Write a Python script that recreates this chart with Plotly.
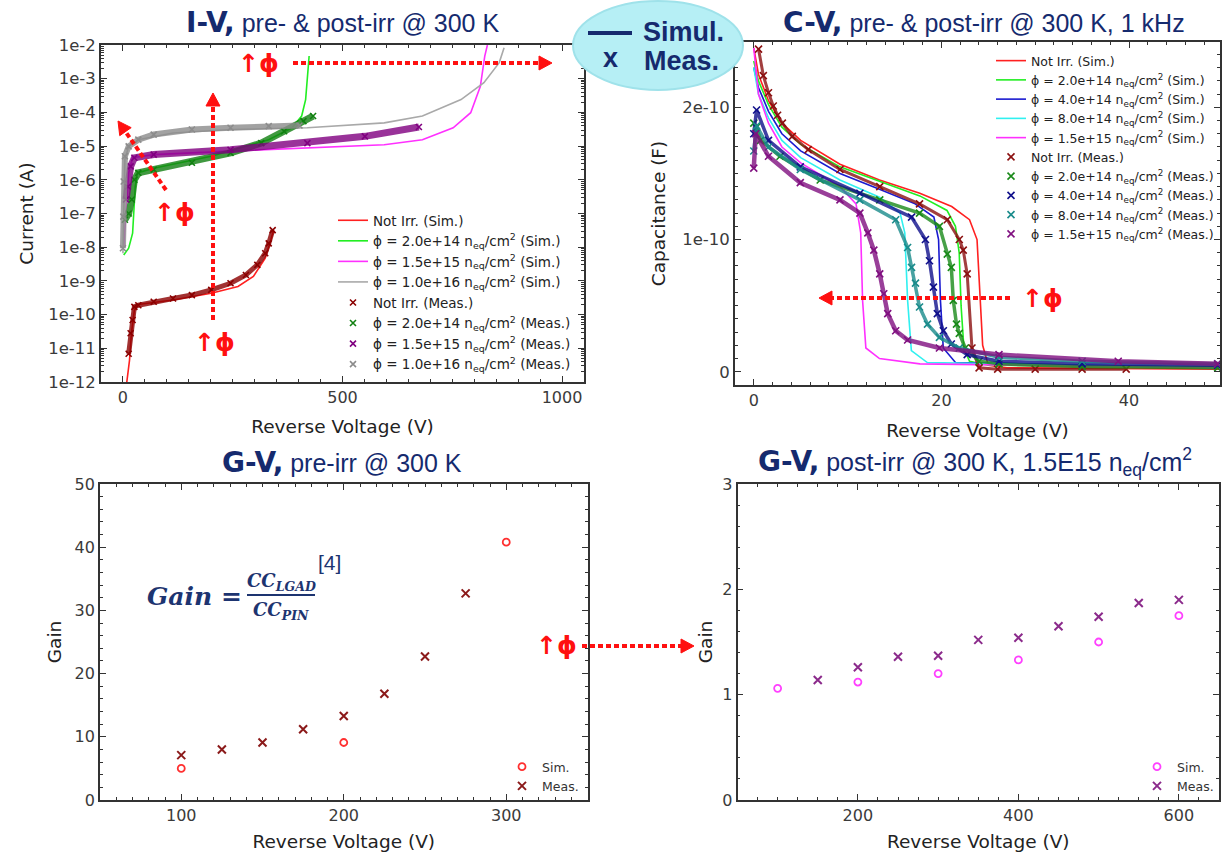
import plotly.graph_objects as go

W, H = 1225, 852


def px(x):
    return x / W


def py(y):
    return 1 - y / H


# ---------------- I-V data (Reverse voltage V, current A) ----------------
iv_notirr_sim_v = [8.75, 14.9, 19.3, 26, 35, 114, 201, 262, 297, 324, 337, 343]
iv_notirr_sim_i = [1e-12, 4.4e-12, 2.8e-11, 1.35e-10, 2.0e-10, 2.7e-10, 4.3e-10, 6.8e-10, 1.35e-9, 4.7e-9, 1.66e-8, 3.2e-8]

iv_2e14_sim_v = [1.75, 13, 22, 28, 33, 70, 201, 332, 385, 407, 416, 420, 424]
iv_2e14_sim_i = [5.9e-9, 9.3e-9, 2.6e-8, 6.3e-7, 1.6e-6, 2.2e-6, 5.0e-6, 1.55e-5, 3.5e-5, 7.8e-5, 2.4e-4, 1.2e-3, 4.7e-3]

iv_15e15_sim_v = [1.75, 7, 13, 22, 70, 245, 420, 595, 682, 752, 792, 814, 824, 830]
iv_15e15_sim_i = [1.05e-8, 1.6e-7, 1.6e-6, 4.5e-6, 5.6e-6, 7.1e-6, 8.7e-6, 1.1e-5, 1.55e-5, 3.5e-5, 9.8e-5, 6.0e-4, 4.7e-3, 1.0e-2]

iv_1e16_sim_v = [0, 1.75, 4.4, 13, 35, 114, 245, 420, 595, 682, 770, 822, 857, 868]
iv_1e16_sim_i = [6.6e-9, 2.6e-7, 4.0e-6, 9.8e-6, 1.55e-5, 2.45e-5, 3.1e-5, 3.5e-5, 4.9e-5, 7.8e-5, 2.4e-4, 7.6e-4, 3.0e-3, 8.3e-3]

iv_notirr_meas_v = [13, 17.5, 22, 26, 35, 70, 114, 157, 201, 245, 280, 306, 324, 332, 341]
iv_notirr_meas_i = [6.9e-12, 2.8e-11, 6.9e-11, 1.7e-10, 1.9e-10, 2.4e-10, 3.0e-10, 3.8e-10, 5.4e-10, 8.5e-10, 1.5e-9, 3.0e-9, 6.6e-9, 1.3e-8, 3.2e-8]

iv_2e14_meas_v = [4.4, 13, 20, 26, 35, 70, 157, 245, 315, 367, 411, 433]
iv_2e14_meas_i = [6.5e-8, 1.0e-7, 2.6e-7, 1.0e-6, 1.6e-6, 2.0e-6, 3.2e-6, 6.3e-6, 1.23e-5, 2.75e-5, 5.5e-5, 7.8e-5]

iv_15e15_meas_v = [7, 11.4, 17.5, 26, 70, 245, 420, 551, 674]
iv_15e15_meas_i = [2.6e-7, 6.3e-7, 2.5e-6, 4.5e-6, 5.6e-6, 7.8e-6, 1.23e-5, 1.95e-5, 3.7e-5]

iv_1e16_meas_v = [0, 0.9, 1.75, 4.4, 13, 35, 70, 157, 245, 332, 402]
iv_1e16_meas_i = [9.3e-9, 8.1e-8, 8.9e-7, 5.0e-6, 9.8e-6, 1.55e-5, 2.2e-5, 3.1e-5, 3.5e-5, 3.9e-5, 4.1e-5]

iv_ticks = [1e-12, 1e-11, 1e-10, 1e-9, 1e-8, 1e-7, 1e-6, 1e-5, 1e-4, 1e-3, 1e-2]
iv_ticktext = ["1e-12", "1e-11", "1e-10", "1e-9", "1e-8", "1e-7", "1e-6", "1e-5", "1e-4", "1e-3", "1e-2"]

# ---------------- C-V data (V, capacitance in units of 1e-10 F) ----------------
cv_notirr_sim_v = [0, 0.5, 1.57, 3, 5, 9.19, 13.4, 17.7, 21.1, 23, 23.8, 24.1, 24.4, 25, 27, 49.7]
cv_notirr_sim_c = [2.45, 2.25, 2.05, 1.88, 1.75, 1.57, 1.45, 1.35, 1.25, 1.15, 1.0, 0.6, 0.2, 0.05, 0.03, 0.02]

cv_2e14_sim_v = [0, 0.5, 1.57, 3, 5, 9.19, 13.4, 17.7, 20.6, 21.5, 21.9, 22.1, 22.4, 23, 25, 49.7]
cv_2e14_sim_c = [2.35, 2.2, 2.02, 1.85, 1.72, 1.55, 1.44, 1.33, 1.22, 1.1, 0.9, 0.5, 0.18, 0.08, 0.05, 0.03]

cv_4e14_sim_v = [0, 0.5, 1.57, 3, 5, 9.19, 13.4, 17.2, 19.2, 19.7, 19.9, 20.2, 21.5, 49.7]
cv_4e14_sim_c = [2.3, 2.15, 1.97, 1.80, 1.67, 1.50, 1.38, 1.27, 1.17, 1.0, 0.54, 0.18, 0.07, 0.03]

cv_8e14_sim_v = [0, 0.5, 1.57, 3, 5, 9.19, 13.4, 15.6, 16.1, 16.4, 16.8, 18.5, 49.7]
cv_8e14_sim_c = [2.3, 2.1, 1.92, 1.75, 1.62, 1.45, 1.32, 1.2, 1.05, 0.54, 0.16, 0.07, 0.03]

cv_15e15_sim_v = [0, 0.5, 1.57, 3, 5, 9.19, 10.9, 11.4, 11.6, 11.95, 13.4, 17.7, 49.7]
cv_15e15_sim_c = [2.45, 2.1, 1.88, 1.70, 1.58, 1.40, 1.27, 1.05, 0.54, 0.18, 0.10, 0.06, 0.03]

cv_notirr_meas_v = [0.51, 1.02, 1.57, 2.08, 2.54, 3.05, 4.11, 5.8, 9.19, 13.43, 17.67, 20.63, 21.91, 22.33, 22.75, 23.26, 24.02, 26, 30, 35, 39.7]
cv_notirr_meas_c = [2.44, 2.24, 2.11, 2.01, 1.94, 1.88, 1.78, 1.68, 1.53, 1.40, 1.27, 1.15, 1.0, 0.92, 0.74, 0.18, 0.03, 0.02, 0.02, 0.02, 0.02]

cv_2e14_meas_v = [0, 0.3, 0.72, 2.8, 7.08, 13.43, 17.67, 19.79, 20.63, 21.06, 21.27, 21.61, 21.91, 22.54, 24.02, 26.14, 35, 49.45]
cv_2e14_meas_c = [1.88, 1.85, 1.75, 1.63, 1.45, 1.30, 1.20, 1.10, 0.89, 0.79, 0.54, 0.36, 0.29, 0.18, 0.08, 0.06, 0.04, 0.03]

cv_4e14_meas_v = [0, 0.3, 1.57, 4.96, 11.31, 16.82, 18.30, 18.73, 19.15, 19.57, 20.21, 21.06, 22.75, 26.14, 35, 49.45]
cv_4e14_meas_c = [1.80, 1.98, 1.75, 1.55, 1.35, 1.17, 1.0, 0.84, 0.64, 0.44, 0.31, 0.21, 0.13, 0.08, 0.06, 0.05]

cv_8e14_meas_v = [0, 0.3, 1.57, 4.96, 11.31, 15.13, 16.40, 16.82, 17.24, 17.67, 18.52, 19.79, 21.91, 26.14, 35, 49.45]
cv_8e14_meas_c = [1.67, 1.86, 1.70, 1.53, 1.30, 1.15, 0.94, 0.79, 0.67, 0.49, 0.36, 0.26, 0.18, 0.11, 0.08, 0.06]

cv_15e15_meas_v = [0, 0.21, 1.57, 4.96, 9.19, 11.31, 12.16, 12.80, 13.43, 13.86, 14.28, 15.13, 16.40, 19.79, 26.14, 38.85, 49.45]
cv_15e15_meas_c = [1.54, 1.80, 1.63, 1.43, 1.30, 1.20, 1.05, 0.92, 0.74, 0.59, 0.44, 0.31, 0.24, 0.18, 0.13, 0.08, 0.06]

cv_unit = 1e-10
cv_ticks = [0, 1e-10, 2e-10]
cv_ticktext = ["0", "1e-10", "2e-10"]

# ---------------- G-V data ----------------
gv_pre_meas_v = [100, 125, 150, 175, 200, 225, 250, 275]
gv_pre_meas_g = [7.1, 8.0, 9.1, 11.2, 13.3, 16.8, 22.7, 32.7]
gv_pre_sim_v = [100, 200, 300]
gv_pre_sim_g = [5.0, 9.1, 40.8]

gv_post_meas_v = [150, 200, 250, 300, 350, 400, 450, 500, 550, 600]
gv_post_meas_g = [1.14, 1.26, 1.36, 1.37, 1.52, 1.54, 1.65, 1.74, 1.87, 1.90]
gv_post_sim_v = [100, 200, 300, 400, 500, 600]
gv_post_sim_g = [1.06, 1.12, 1.20, 1.33, 1.50, 1.75]

# ---------------- styling ----------------
FONT = "DejaVu Sans"
NAVY = "#152a6e"
RED = "#ff1010"
lab_neq = "n<sub>eq</sub>/cm<sup>2</sup>"

fig = go.Figure()


def sim_line(x, y, color, name, xa, ya, leg, width=1.6):
    fig.add_trace(go.Scatter(x=x, y=y, mode="lines", name=name, line=dict(color=color, width=width),
                             xaxis=xa, yaxis=ya, legend=leg, hoverinfo="skip"))


def meas(x, y, color, name, xa, ya, leg, band=0, size=6):
    if band:
        fig.add_trace(go.Scatter(x=x, y=y, mode="lines", showlegend=False, line=dict(color=color, width=band),
                                 opacity=0.8, xaxis=xa, yaxis=ya, hoverinfo="skip"))
    fig.add_trace(go.Scatter(x=x, y=y, mode="markers", name=name,
                             marker=dict(symbol="x-thin", size=size, color=color, line=dict(color=color, width=1.6)),
                             xaxis=xa, yaxis=ya, legend=leg, hoverinfo="skip"))


# I-V
sim_line(iv_notirr_sim_v, iv_notirr_sim_i, "#ff2020", "Not Irr. (Sim.)", "x", "y", "legend")
sim_line(iv_2e14_sim_v, iv_2e14_sim_i, "#22ee22", "ϕ = 2.0e+14 " + lab_neq + " (Sim.)", "x", "y", "legend")
sim_line(iv_15e15_sim_v, iv_15e15_sim_i, "#ff30ff", "ϕ = 1.5e+15 " + lab_neq + " (Sim.)", "x", "y", "legend")
sim_line(iv_1e16_sim_v, iv_1e16_sim_i, "#a9a9a9", "ϕ = 1.0e+16 " + lab_neq + " (Sim.)", "x", "y", "legend")
meas(iv_notirr_meas_v, iv_notirr_meas_i, "#8b0000", "Not Irr. (Meas.)", "x", "y", "legend", band=5)
meas(iv_2e14_meas_v, iv_2e14_meas_i, "#118011", "ϕ = 2.0e+14 " + lab_neq + " (Meas.)", "x", "y", "legend", band=7)
meas(iv_15e15_meas_v, iv_15e15_meas_i, "#800080", "ϕ = 1.5e+15 " + lab_neq + " (Meas.)", "x", "y", "legend", band=7)
meas(iv_1e16_meas_v, iv_1e16_meas_i, "#8c8c8c", "ϕ = 1.0e+16 " + lab_neq + " (Meas.)", "x", "y", "legend", band=6)

# C-V
cv = lambda arr: [v * cv_unit for v in arr]
sim_line(cv_notirr_sim_v, cv(cv_notirr_sim_c), "#ff2020", "Not Irr. (Sim.)", "x2", "y2", "legend2")
sim_line(cv_2e14_sim_v, cv(cv_2e14_sim_c), "#22ee22", "ϕ = 2.0e+14 " + lab_neq + " (Sim.)", "x2", "y2", "legend2")
sim_line(cv_4e14_sim_v, cv(cv_4e14_sim_c), "#1a1ad0", "ϕ = 4.0e+14 " + lab_neq + " (Sim.)", "x2", "y2", "legend2")
sim_line(cv_8e14_sim_v, cv(cv_8e14_sim_c), "#30f0f0", "ϕ = 8.0e+14 " + lab_neq + " (Sim.)", "x2", "y2", "legend2")
sim_line(cv_15e15_sim_v, cv(cv_15e15_sim_c), "#ff30ff", "ϕ = 1.5e+15 " + lab_neq + " (Sim.)", "x2", "y2", "legend2")
meas(cv_notirr_meas_v, cv(cv_notirr_meas_c), "#8b1010", "Not Irr. (Meas.)", "x2", "y2", "legend2", band=3, size=7)
meas(cv_2e14_meas_v, cv(cv_2e14_meas_c), "#1a8a1a", "ϕ = 2.0e+14 " + lab_neq + " (Meas.)", "x2", "y2", "legend2", band=3.5, size=7)
meas(cv_4e14_meas_v, cv(cv_4e14_meas_c), "#10108b", "ϕ = 4.0e+14 " + lab_neq + " (Meas.)", "x2", "y2", "legend2", band=3.5, size=7)
meas(cv_8e14_meas_v, cv(cv_8e14_meas_c), "#1a8b8b", "ϕ = 8.0e+14 " + lab_neq + " (Meas.)", "x2", "y2", "legend2", band=3.5, size=7)
meas(cv_15e15_meas_v, cv(cv_15e15_meas_c), "#801080", "ϕ = 1.5e+15 " + lab_neq + " (Meas.)", "x2", "y2", "legend2", band=4.5, size=7)

# G-V pre
fig.add_trace(go.Scatter(x=gv_pre_sim_v, y=gv_pre_sim_g, mode="markers", name="Sim.",
                         marker=dict(symbol="circle-open", size=7, color="#ff3030", line=dict(width=1.8)),
                         xaxis="x3", yaxis="y3", legend="legend3"))
fig.add_trace(go.Scatter(x=gv_pre_meas_v, y=gv_pre_meas_g, mode="markers", name="Meas.",
                         marker=dict(symbol="x-thin", size=8, color="#8b1a1a", line=dict(color="#8b1a1a", width=2)),
                         xaxis="x3", yaxis="y3", legend="legend3"))
# G-V post
fig.add_trace(go.Scatter(x=gv_post_sim_v, y=gv_post_sim_g, mode="markers", name="Sim.",
                         marker=dict(symbol="circle-open", size=7, color="#ff40ff", line=dict(width=1.8)),
                         xaxis="x4", yaxis="y4", legend="legend4"))
fig.add_trace(go.Scatter(x=gv_post_meas_v, y=gv_post_meas_g, mode="markers", name="Meas.",
                         marker=dict(symbol="x-thin", size=8, color="#8b2a8b", line=dict(color="#8b2a8b", width=2)),
                         xaxis="x4", yaxis="y4", legend="legend4"))


def axis(domain, anchor, rng, title, standoff, size=16, **kw):
    d = dict(domain=domain, anchor=anchor, range=rng, showline=True, linecolor="#333", linewidth=1.8,
             mirror="ticks", ticks="inside", ticklen=6, tickwidth=1.2, tickcolor="#333",
             showgrid=False, zeroline=False, automargin=False,
             tickfont=dict(family=FONT, size=size, color="#3a3a3a"),
             title=dict(text=title, standoff=standoff, font=dict(family=FONT, size=18.5, color="#222")))
    d.update(kw)
    return d


minor_log = [m * 10.0 ** e for e in range(-12, -2) for m in range(2, 10)]

fig.update_layout(
    width=W, height=H, margin=dict(l=0, r=0, t=0, b=0, pad=0, autoexpand=False),
    paper_bgcolor="white", plot_bgcolor="white",
    xaxis=axis([px(101), px(584)], "y", [-50, 1050], "Reverse Voltage (V)", 14,
               tickvals=[0, 500, 1000], minor=dict(ticks="inside", ticklen=3, dtick=50, tickcolor="#333")),
    yaxis=axis([py(382), py(45)], "x", [-12, -2], "Current (A)", 10, size=16.5, type="log",
               tickvals=iv_ticks, ticktext=iv_ticktext,
               minor=dict(ticks="inside", ticklen=3, tickvals=minor_log, tickcolor="#333")),
    xaxis2=axis([px(735), px(1220)], "y2", [-2, 49.7], "Reverse Voltage (V)", 15,
                tickvals=[0, 20, 40], minor=dict(ticks="inside", ticklen=3, dtick=2, tickcolor="#333")),
    yaxis2=axis([py(385), py(42)], "x2", [-0.1e-10, 2.494e-10], "Capacitance (F)", 12, size=16.5,
                tickvals=cv_ticks, ticktext=cv_ticktext,
                minor=dict(ticks="inside", ticklen=3, dtick=1e-11, tickcolor="#333")),
    xaxis3=axis([px(100), px(587.5)], "y3", [50, 350], "Reverse Voltage (V)", 12,
                tickvals=[100, 200, 300], minor=dict(ticks="inside", ticklen=3, dtick=10, tickcolor="#333")),
    yaxis3=axis([py(800), py(484)], "x3", [0, 50], "Gain", 8, dtick=10,
                minor=dict(ticks="inside", ticklen=3, dtick=2, tickcolor="#333")),
    xaxis4=axis([px(737.5), px(1219)], "y4", [50, 650], "Reverse Voltage (V)", 12,
                tickvals=[200, 400, 600], minor=dict(ticks="inside", ticklen=3, dtick=25, tickcolor="#333")),
    yaxis4=axis([py(800), py(484)], "x4", [0, 3], "Gain", 5, dtick=1,
                minor=dict(ticks="inside", ticklen=3, dtick=0.2, tickcolor="#333")),
    legend=dict(x=px(333), y=py(205), xanchor="left", yanchor="top", bgcolor="rgba(0,0,0,0)",
                font=dict(family=FONT, size=13.5, color="#222"), itemwidth=30, tracegroupgap=0),
    legend2=dict(x=px(991), y=py(46), xanchor="left", yanchor="top", bgcolor="rgba(0,0,0,0)",
                 font=dict(family=FONT, size=12.5, color="#222"), itemwidth=30, tracegroupgap=0),
    legend3=dict(x=px(502), y=py(752), xanchor="left", yanchor="top", bgcolor="rgba(0,0,0,0)",
                 font=dict(family=FONT, size=12.5, color="#333"), itemwidth=30),
    legend4=dict(x=px(1137), y=py(752), xanchor="left", yanchor="top", bgcolor="rgba(0,0,0,0)",
                 font=dict(family=FONT, size=12.5, color="#333"), itemwidth=30),
    showlegend=True,
)

shapes = []
annots = []


def note(xc, yc, text, font):
    annots.append(dict(x=px(xc), y=py(yc), xref="paper", yref="paper", showarrow=False,
                       xanchor="center", yanchor="middle", text=text, font=font))


def title(xc, yc, bold, rest):
    note(xc, yc, "<span style='font-family:DejaVu Sans;font-size:28px'><b>" + bold + "</b></span> "
         + "<span style='font-size:25px'>" + rest + "</span>",
         dict(family="Liberation Sans", size=25, color=NAVY))


title(342, 22, "I-V,", "pre- & post-irr @ 300 K")
title(984, 22, "C-V,", "pre- & post-irr @ 300 K, 1 kHz")
title(342, 462, "G-V,", "pre-irr @ 300 K")
title(975, 462, "G-V,", "post-irr @ 300 K, 1.5E15 n<sub>eq</sub>/cm<sup>2</sup>")

# Simul./Meas. ellipse key
shapes.append(dict(type="circle", xref="paper", yref="paper", x0=px(573), x1=px(743), y0=py(90), y1=py(1),
                   fillcolor="#b6eff5", line=dict(color="#9fe2ea", width=2), layer="above"))
shapes.append(dict(type="line", xref="paper", yref="paper", x0=px(588), x1=px(632), y0=py(33), y1=py(33),
                   line=dict(color=NAVY, width=4), layer="above"))
for xc, yc, t in [(683, 32, "Simul."), (610, 58, "x"), (681, 61, "Meas.")]:
    note(xc, yc, "<b>" + t + "</b>", dict(family="Liberation Sans", size=27, color=NAVY))


# red dotted arrows
def arrow(x0, y0, x1, y1, tip_x, tip_y):
    shapes.append(dict(type="line", xref="paper", yref="paper", x0=px(x0), y0=py(y0), x1=px(x1), y1=py(y1),
                       line=dict(color=RED, width=4, dash="5px,3px"), layer="above"))
    dx, dy = tip_x - x1, tip_y - y1
    n = (dx * dx + dy * dy) ** 0.5
    ux, uy = dx / n, dy / n
    L, hw = 13, 7
    bx, by = tip_x - ux * L, tip_y - uy * L
    pts = [(tip_x, tip_y), (bx - uy * hw, by + ux * hw), (bx + uy * hw, by - ux * hw)]
    path = "M " + " L ".join(f"{px(a):.5f} {py(b):.5f}" for a, b in pts) + " Z"
    shapes.append(dict(type="path", xref="paper", yref="paper", path=path, fillcolor=RED,
                       line=dict(color=RED, width=1), layer="above"))


def phi(xc, yc):
    note(xc, yc, "<b>↑ϕ</b>", dict(family="DejaVu Sans", size=25, color=RED))


arrow(293, 63, 540, 63, 552, 63)
phi(258, 64)
arrow(213, 320, 213, 106, 213, 93)
phi(214, 342)
arrow(166, 190, 125, 131, 118, 121)
phi(174, 212)
arrow(1010, 298, 831, 298, 819, 298)
phi(1042, 298)
arrow(582, 646, 681, 646, 694, 646)
phi(556, 645)

# Gain formula
FORM = "#1d3470"
note(194, 596, "<b><i>Gain =</i></b>", dict(family="DejaVu Serif", size=25, color=FORM))
note(281, 582, "<b><i>CC<sub>LGAD</sub></i></b>", dict(family="DejaVu Serif", size=18, color=FORM))
note(281, 611, "<b><i>CC<sub>PIN</sub></i></b>", dict(family="DejaVu Serif", size=18, color=FORM))
shapes.append(dict(type="line", xref="paper", yref="paper", x0=px(247), x1=px(315), y0=py(595), y1=py(595),
                   line=dict(color=FORM, width=2)))
note(329, 562, "[4]", dict(family="Liberation Sans", size=21, color=FORM))

fig.update_layout(shapes=shapes, annotations=annots)
fig.write_html("out.html", config={"displayModeBar": False},
               post_script="document.body.style.margin='0px';")
